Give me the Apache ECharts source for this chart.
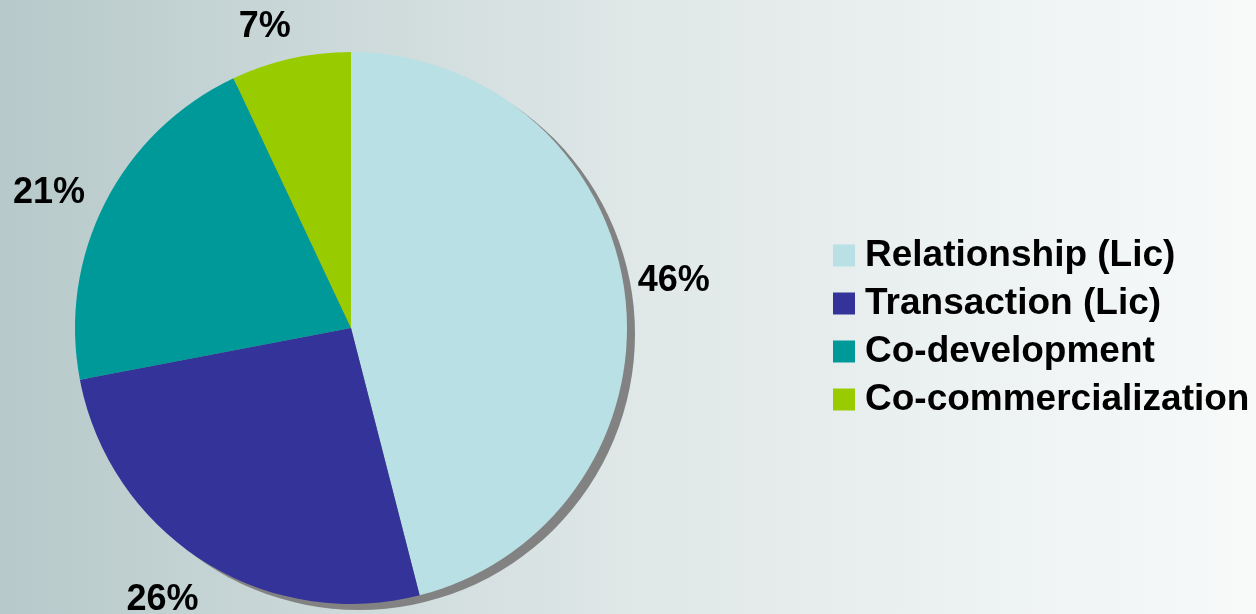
<!DOCTYPE html>
<html>
<head>
<meta charset="utf-8">
<script src="https://cdn.jsdelivr.net/npm/echarts@6/dist/echarts.min.js"></script>
<style>
  html, body { margin: 0; padding: 0; }
  #chart { width: 1256px; height: 614px; }
</style>
</head>
<body>
<div id="chart"></div>
<script>
// Deal types and their share of the total (percent)
const categories = ['Relationship (Lic)', 'Transaction (Lic)', 'Co-development', 'Co-commercialization'];
const shares = [46, 26, 21, 7];
const colors = ['#b9e0e4', '#333399', '#009999', '#99cc00'];

const FONT = '"Liberation Sans", Arial, Helvetica, sans-serif';
const CENTER = [351, 328];
const RADIUS = 276;

// small nudges so the percentage labels sit clear of the rim
const labelNudge = [[-10, -10], [10, 24], [1, -1], [9, -14]];

const chart = echarts.init(document.getElementById('chart'));

chart.setOption({
  animation: false,
  backgroundColor: {
    type: 'linear', x: 0, y: 0, x2: 1, y2: 0,
    colorStops: [
      { offset: 0, color: '#b7c9ca' },
      { offset: 0.5, color: '#dfe7e7' },
      { offset: 1, color: '#f8fafa' }
    ]
  },
  legend: {
    orient: 'vertical',
    left: 828,
    top: 232,
    data: categories,
    icon: 'rect',
    itemWidth: 22,
    itemHeight: 22,
    itemGap: 11,
    selectedMode: false,
    textStyle: {
      fontFamily: FONT,
      fontWeight: 'bold',
      fontSize: 37,
      lineHeight: 37,
      padding: [0, 0, 0, 5],
      color: '#000'
    }
  },
  series: [
    {
      // drop shadow behind the pie
      type: 'pie',
      silent: true,
      center: [CENTER[0] + 8, CENTER[1] + 6],
      radius: RADIUS,
      label: { show: false },
      labelLine: { show: false },
      itemStyle: { color: '#828282' },
      data: [{ name: 'shadow', value: 1 }],
      z: 1
    },
    {
      type: 'pie',
      center: CENTER,
      radius: RADIUS,
      startAngle: 90,
      clockwise: true,
      z: 2,
      itemStyle: { borderWidth: 0 },
      label: {
        show: true,
        position: 'outside',
        formatter: '{c}%',
        fontFamily: FONT,
        fontWeight: 'bold',
        fontSize: 36,
        color: '#000'
      },
      labelLine: { show: false, length: 18, length2: 0 },
      labelLayout: (p) => ({ dx: labelNudge[p.dataIndex][0], dy: labelNudge[p.dataIndex][1] }),
      data: categories.map((name, i) => ({
        name,
        value: shares[i],
        itemStyle: { color: colors[i] }
      }))
    }
  ]
});
</script>
</body>
</html>
